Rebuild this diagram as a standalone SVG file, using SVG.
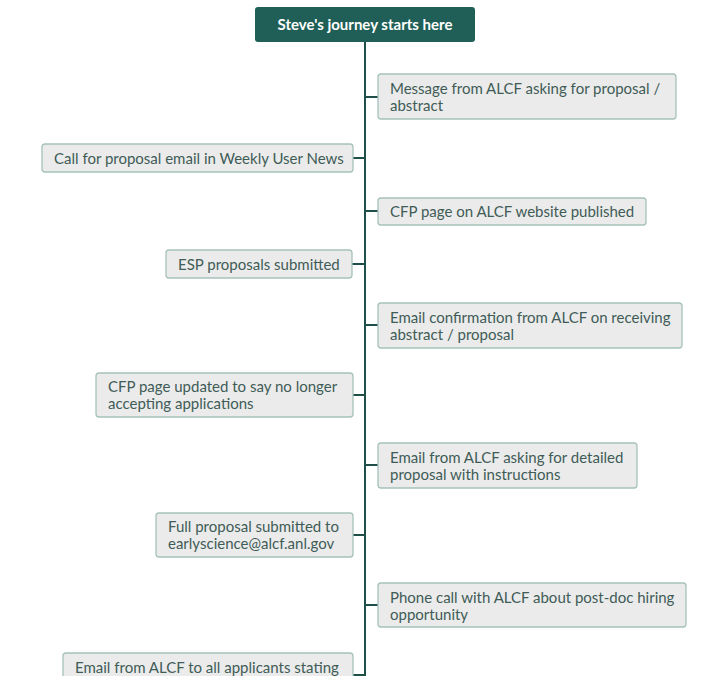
<svg xmlns="http://www.w3.org/2000/svg" width="716" height="676" viewBox="0 0 716 676">
<style>
.box{fill:#ebebeb;stroke:#a6c2bb;stroke-width:1.3}
.t{font-family:Lato,"Open Sans",sans-serif;font-size:15px;fill:#3f5c57}
.c{fill:none;stroke:#1f4f49;stroke-width:2}
</style>
<rect width="716" height="676" fill="#ffffff"/>
<g id="connectors">
<line class="c" x1="365" y1="42" x2="365" y2="676"/>
<path class="c" d="M365 97 H378"/>
<path class="c" d="M353 158 H365"/>
<path class="c" d="M365 211 H378"/>
<path class="c" d="M352 264 H365"/>
<path class="c" d="M365 325 H378"/>
<path class="c" d="M353 395 H365"/>
<path class="c" d="M365 465 H378"/>
<path class="c" d="M353 535 H365"/>
<path class="c" d="M365 605 H378"/>
<path class="c" d="M353 675 H365"/>
</g>
<g id="start">
<rect x="255" y="7" width="220" height="35" rx="3" fill="#1f5f57"/>
<text x="365" y="30" text-anchor="middle" font-family="Lato,'Open Sans',sans-serif" font-size="15" font-weight="bold" fill="#ffffff">Steve's journey starts here</text>
</g>
<g id="n1">
<rect class="box" x="378" y="74" width="298" height="45" rx="3"/>
<text class="t" x="390" y="94">Message from ALCF asking for proposal /</text>
<text class="t" x="390" y="111">abstract</text>
</g>
<g id="n2">
<rect class="box" x="42" y="144" width="311" height="28" rx="3"/>
<text class="t" x="54" y="164">Call for proposal email in Weekly User News</text>
</g>
<g id="n3">
<rect class="box" x="378" y="198" width="268" height="27" rx="3"/>
<text class="t" x="390" y="217">CFP page on ALCF website published</text>
</g>
<g id="n4">
<rect class="box" x="166" y="250" width="186" height="28" rx="3"/>
<text class="t" x="178" y="270">ESP proposals submitted</text>
</g>
<g id="n5">
<rect class="box" x="378" y="303" width="304" height="45" rx="3"/>
<text class="t" x="390" y="323">Email confirmation from ALCF on receiving</text>
<text class="t" x="390" y="340">abstract / proposal</text>
</g>
<g id="n6">
<rect class="box" x="96" y="373" width="257" height="44" rx="3"/>
<text class="t" x="108" y="392">CFP page updated to say no longer</text>
<text class="t" x="108" y="409">accepting applications</text>
</g>
<g id="n7">
<rect class="box" x="378" y="443" width="259" height="45" rx="3"/>
<text class="t" x="390" y="463">Email from ALCF asking for detailed</text>
<text class="t" x="390" y="480">proposal with instructions</text>
</g>
<g id="n8">
<rect class="box" x="156" y="513" width="197" height="44" rx="3"/>
<text class="t" x="168" y="532">Full proposal submitted to</text>
<text class="t" x="168" y="549">earlyscience@alcf.anl.gov</text>
</g>
<g id="n9">
<rect class="box" x="378" y="583" width="308" height="44" rx="3"/>
<text class="t" x="390" y="603">Phone call with ALCF about post-doc hiring</text>
<text class="t" x="390" y="620">opportunity</text>
</g>
<g id="n10">
<rect class="box" x="63" y="653" width="290" height="40" rx="3"/>
<text class="t" x="75" y="673">Email from ALCF to all applicants stating</text>
</g>
</svg>
